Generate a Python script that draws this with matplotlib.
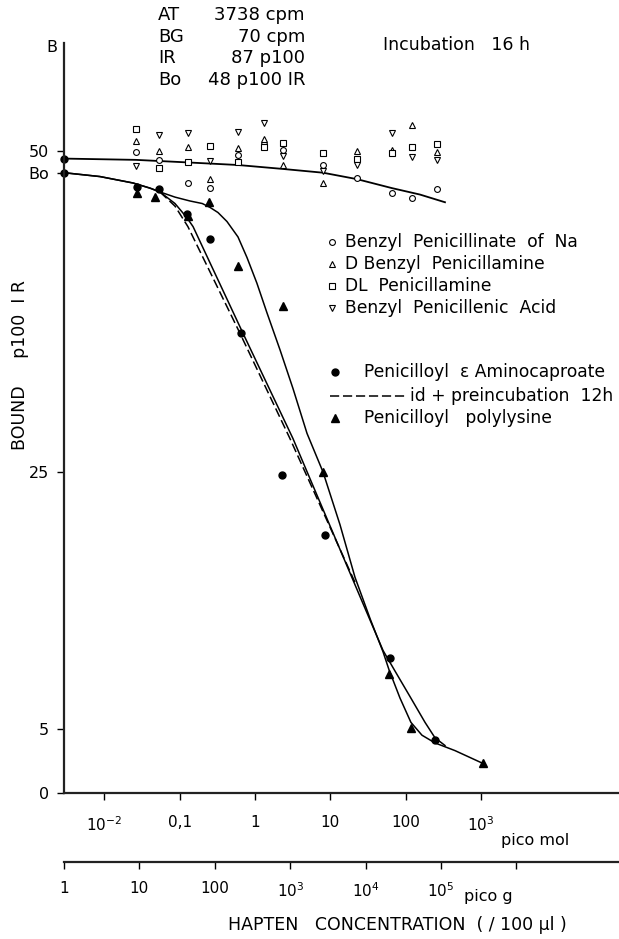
import numpy as np
import matplotlib
matplotlib.use("Agg")
import matplotlib.pyplot as plt
from matplotlib.lines import Line2D

W, H = 619, 939

# upper cluster: one column per dose (pico mol), % bound for each compound
cluster_x = [0.0264, 0.0533, 0.129, 0.253, 0.595, 1.32, 2.35, 7.98, 22.5, 65.6, 121, 259]
na_pen_y = [49.9, 49.3, 47.5, 47.1, 49.7, 50.5, 50.1, 48.9, 47.9, 46.7, 46.3, 47.0]
d_benzyl_y = [50.8, 50.0, 50.3, 47.8, 50.2, 50.9, 48.9, 47.5, 50.0, 50.1, 52.0, 49.9]
dl_pen_y = [51.7, 48.7, 49.1, 50.4, 49.1, 50.3, 50.6, 49.8, 49.4, 49.8, 50.3, 50.5]
penicillenic_y = [48.8, 51.2, 51.4, 49.2, 51.5, 52.2, 49.6, 48.4, 48.9, 51.4, 49.5, 49.3]

# penicilloyl e-aminocaproate (filled circles)
amino_x = [0.0272, 0.0533, 0.125, 0.253, 0.652, 2.28, 8.48, 61.7, 244]
amino_y = [47.2, 47.0, 45.1, 43.1, 35.8, 24.8, 20.1, 10.5, 4.1]

# penicilloyl polylysine (filled triangles)
poly_x = [0.0272, 0.0472, 0.129, 0.245, 0.595, 2.35, 7.98, 59.9, 117, 1057]
poly_y = [46.7, 46.4, 44.9, 46.0, 41.0, 37.9, 25.0, 9.3, 5.1, 2.3]

# points drawn on the B axis (zero hapten)
axis_pts_x = [0.00293, 0.00293]
axis_pts_y = [49.4, 48.3]
bo_level = 48.3

# hand drawn curves
flat_x = [0.00293, 0.0264, 0.129, 0.595, 2.28, 7.98, 22.5, 65.6, 154, 331]
flat_y = [49.4, 49.3, 49.1, 48.9, 48.6, 48.3, 47.8, 47.1, 46.6, 46.0]

poly_curve_x = [0.00293, 0.00879, 0.0241, 0.0405, 0.055, 0.0869, 0.137, 0.200, 0.253, 0.323,
                0.425, 0.595, 0.783, 1.06, 1.44, 2.15, 3.19, 4.90, 7.98, 13.4, 21.2, 34.0,
                49.9, 59.9, 83.7, 117, 164, 244, 450, 1057]
poly_curve_y = [48.3, 48.0, 47.5, 47.1, 46.8, 46.4, 46.1, 45.9, 45.6, 45.2,
                44.5, 43.3, 41.7, 39.7, 37.4, 34.5, 31.5, 28.0, 25.0, 20.9, 16.8, 13.5,
                11.0, 9.6, 7.4, 5.5, 4.5, 3.9, 3.3, 2.3]

amino_curve_x = [0.00293, 0.00879, 0.0241, 0.0405, 0.055, 0.0869, 0.125, 0.151, 0.693,
                 3.19, 24.7, 49.9, 71.9, 114, 180, 244, 331]
amino_curve_y = [48.3, 48.0, 47.5, 47.1, 46.8, 45.9, 44.8, 44.1, 35.8,
                 27.6, 15.3, 11.1, 9.5, 7.5, 5.5, 4.3, 3.7]

preinc_x = [0.055, 0.0869, 0.129, 0.632, 2.91, 21.2]
preinc_y = [46.8, 45.7, 44.1, 35.8, 27.6, 16.4]

pmol_ticks = [0.01, 0.1, 1, 10, 100, 1000]
pmol_labels = ['$10^{-2}$', '0,1', '1', '10', '100', '$10^3$']
pg_ticks = [1, 10, 100, 1e3, 1e4, 1e5, 1e6]
pg_labels = ['1', '10', '100', '$10^3$', '$10^4$', '$10^5$', '']
y_ticks = [0, 5, 25, bo_level, 50]
y_labels = ['0', '5', '25', 'Bo', '50']

plt.rcParams['font.family'] = ['DejaVu Sans']
fig = plt.figure(figsize=(W / 100, H / 100), dpi=100)


def fx(x):
    return x / W


def fy(y):
    return 1 - y / H


ax = fig.add_axes([fx(64), fy(793), (W - 64) / W, (793 - 43) / H])
ax.set_xscale('log')
ax.set_xlim(10 ** -2.533, 10 ** 4.828)
ax.set_ylim(0, 58.4)
for s in ['top', 'right']:
    ax.spines[s].set_visible(False)
for s in ['left', 'bottom']:
    ax.spines[s].set_linewidth(1.6)
    ax.spines[s].set_color('#222222')
ax.set_xticks(pmol_ticks)
ax.set_xticklabels(pmol_labels)
ax.xaxis.set_minor_locator(matplotlib.ticker.NullLocator())
ax.set_yticks(y_ticks)
ax.set_yticklabels(y_labels)
ax.tick_params(axis='x', direction='out', length=5, width=1, pad=11, labelsize=11)
ax.tick_params(axis='y', direction='out', length=5, width=1, pad=6, labelsize=11.5)

# curves
ax.plot(flat_x, flat_y, color='k', lw=1.3)
ax.plot(poly_curve_x, poly_curve_y, color='k', lw=1.1)
ax.plot(amino_curve_x, amino_curve_y, color='k', lw=1.1)
ax.plot(preinc_x, preinc_y, color='k', lw=1.1, dashes=(6, 2.5))

# open symbols
ms_open = 4.2
ax.plot(cluster_x, na_pen_y, 'o', mfc='white', mec='k', mew=0.8, ms=ms_open, ls='none')
ax.plot(cluster_x, d_benzyl_y, '^', mfc='white', mec='k', mew=0.8, ms=ms_open, ls='none')
ax.plot(cluster_x, dl_pen_y, 's', mfc='white', mec='k', mew=0.8, ms=ms_open - 0.5, ls='none')
ax.plot(cluster_x, penicillenic_y, 'v', mfc='white', mec='k', mew=0.8, ms=ms_open, ls='none')

# filled symbols
ax.plot(amino_x, amino_y, 'o', color='k', ms=5, ls='none')
ax.plot(poly_x, poly_y, '^', color='k', ms=5.5, ls='none')
ax.plot(axis_pts_x, axis_pts_y, 'o', color='k', ms=5, ls='none', clip_on=False)

# second scale in pico g
ax2 = fig.add_axes([fx(64), fy(862), (W - 64) / W, 0.0001])
ax2.set_xscale('log')
ax2.set_xlim(1, 10 ** 7.36)
for s in ['top', 'right', 'left']:
    ax2.spines[s].set_visible(False)
ax2.spines['bottom'].set_linewidth(1.6)
ax2.spines['bottom'].set_color('#222222')
ax2.set_yticks([])
ax2.set_xticks(pg_ticks)
ax2.set_xticklabels(pg_labels)
ax2.xaxis.set_minor_locator(matplotlib.ticker.NullLocator())
ax2.tick_params(axis='x', direction='out', length=5, width=1, pad=9, labelsize=11)

# texts
fig.text(fx(52), fy(47), 'B', ha='center', va='center', fontsize=11.5)
fig.text(fx(20), fy(365), 'BOUND     p100  I R', rotation=90, ha='center', va='center', fontsize=12.5)
fig.text(fx(535), fy(840), 'pico mol', ha='center', va='center', fontsize=11.5)
fig.text(fx(488), fy(897), 'pico g', ha='center', va='center', fontsize=11.5)
fig.text(fx(397), fy(925), 'HAPTEN   CONCENTRATION  ( / 100 \u00b5l )', ha='center', va='center',
         fontsize=12.5)
fig.text(fx(383), fy(45), 'Incubation   16 h', ha='left', va='center', fontsize=12.5)

info_keys = ['AT', 'BG', 'IR', 'Bo']
info_vals = ['3738 cpm', '70 cpm', '87 p100', '48 p100 IR']
for i, (k, v) in enumerate(zip(info_keys, info_vals)):
    yy = 15 + i * 21.7
    fig.text(fx(158), fy(yy), k, ha='left', va='center', fontsize=13)
    fig.text(fx(305), fy(yy), v, ha='right', va='center', fontsize=13)

# legend, drawn by hand
leg1 = [('o', 'Benzyl  Penicillinate  of  Na'),
        ('^', 'D Benzyl  Penicillamine'),
        ('s', 'DL  Penicillamine'),
        ('v', 'Benzyl  Penicillenic  Acid')]
for i, (m, lab) in enumerate(leg1):
    yy = 242 + i * 22
    fig.add_artist(Line2D([fx(332)], [fy(yy)], transform=fig.transFigure, marker=m,
                          mfc='white', mec='k', mew=0.8, ms=ms_open, ls='none'))
    fig.text(fx(345), fy(yy), lab, ha='left', va='center', fontsize=12.3)

fig.add_artist(Line2D([fx(335)], [fy(372)], transform=fig.transFigure, marker='o',
                      color='k', ms=5, ls='none'))
fig.text(fx(364), fy(372), 'Penicilloyl  \u03b5 Aminocaproate', ha='left', va='center', fontsize=12.3)
fig.add_artist(Line2D([fx(330), fx(405)], [fy(396), fy(396)], transform=fig.transFigure,
                      color='k', lw=1.1, dashes=(6, 2.5)))
fig.text(fx(410), fy(396), 'id + preincubation  12h', ha='left', va='center', fontsize=12.3)
fig.add_artist(Line2D([fx(335)], [fy(418)], transform=fig.transFigure, marker='^',
                      color='k', ms=5.5, ls='none'))
fig.text(fx(364), fy(418), 'Penicilloyl   polylysine', ha='left', va='center', fontsize=12.3)

fig.savefig('out.png', dpi=100)
